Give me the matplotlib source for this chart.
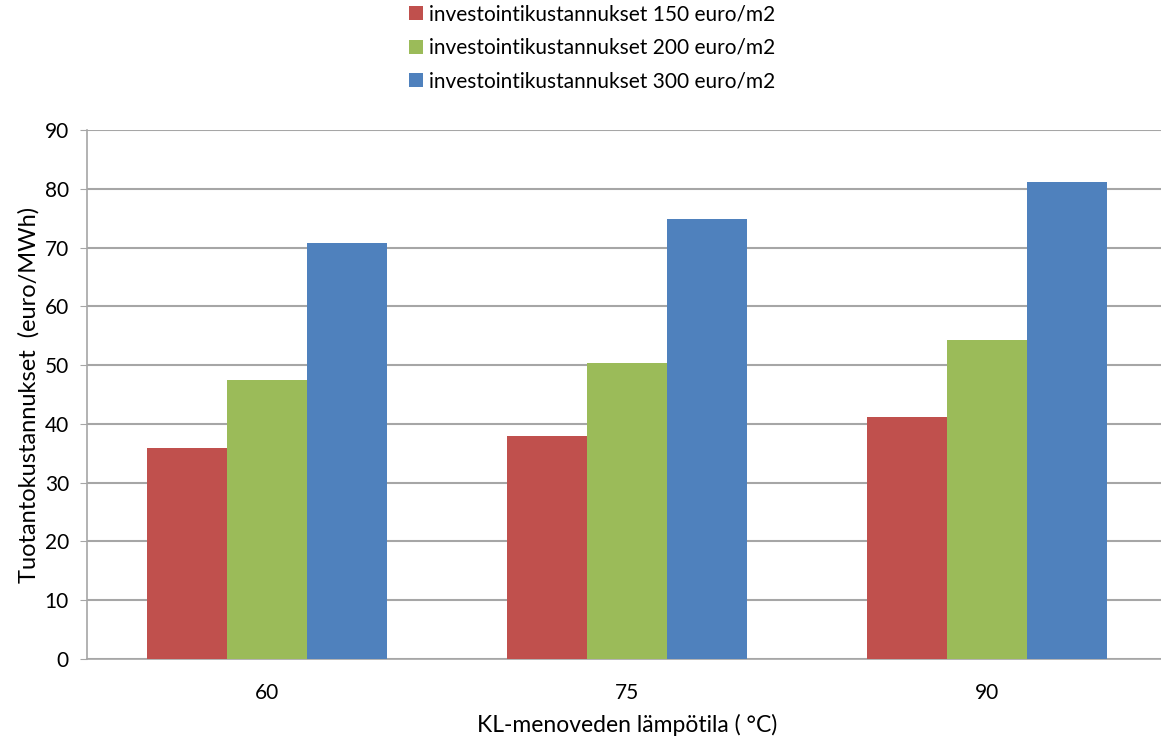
import numpy as np
import matplotlib
matplotlib.use('Agg')
import matplotlib.pyplot as plt

# Data
lampotilat = ['60', '75', '90']
sarjat = ['investointikustannukset 150 euro/m2',
          'investointikustannukset 200 euro/m2',
          'investointikustannukset 300 euro/m2']
arvot_150 = [35.9, 38.0, 41.1]
arvot_200 = [47.4, 50.3, 54.3]
arvot_300 = [70.7, 74.9, 81.2]
varit = ['#C0504D', '#9BBB59', '#4F81BD']

plt.rcParams['font.family'] = ['Lato', 'DejaVu Sans']

W, H = 1161, 738
fig = plt.figure(figsize=(W / 100, H / 100), dpi=100)
# axes in pixel coordinates: left 87, right 1167, top 130, bottom 659
ax = fig.add_axes([87 / W, (H - 659) / H, (1167 - 87) / W, (659 - 130) / H])

x = np.arange(len(lampotilat))
leveys = 80 / 360
for i, (arvot, nimi) in enumerate(zip([arvot_150, arvot_200, arvot_300], sarjat)):
    ax.bar(x + (i - 1) * leveys, arvot, width=leveys, color=varit[i], label=nimi, zorder=3)

ax.set_xlim(-0.5, 2.5)
ax.set_ylim(0, 90)
ax.set_yticks(range(0, 91, 10))
ax.set_xticks(x)
ax.set_xticklabels(lampotilat)
ax.yaxis.grid(True, color='#A6A6A6', linewidth=1.5, zorder=0)
ax.set_axisbelow(True)

for s in ['top', 'right']:
    ax.spines[s].set_visible(False)
for s in ['left', 'bottom']:
    ax.spines[s].set_color('#A6A6A6')
    ax.spines[s].set_linewidth(1.2)

ax.tick_params(axis='y', direction='out', length=5, color='#A6A6A6', labelsize=15, pad=8)
ax.tick_params(axis='x', length=0, labelsize=15, pad=17)

ax.set_ylabel('Tuotantokustannukset  (euro/MWh)', fontsize=17, labelpad=4)
ax.set_xlabel('KL-menoveden lämpötila ( °C)', fontsize=16.5, labelpad=8)

fig.legend(loc='upper center', bbox_to_anchor=(0.5 + 12 / W, 1.0 + 4 / H), frameon=False,
           fontsize=15, handlelength=0.65, handleheight=0.65, handletextpad=0.3,
           labelspacing=0.65, borderaxespad=0)

fig.savefig('out.png', dpi=100)
